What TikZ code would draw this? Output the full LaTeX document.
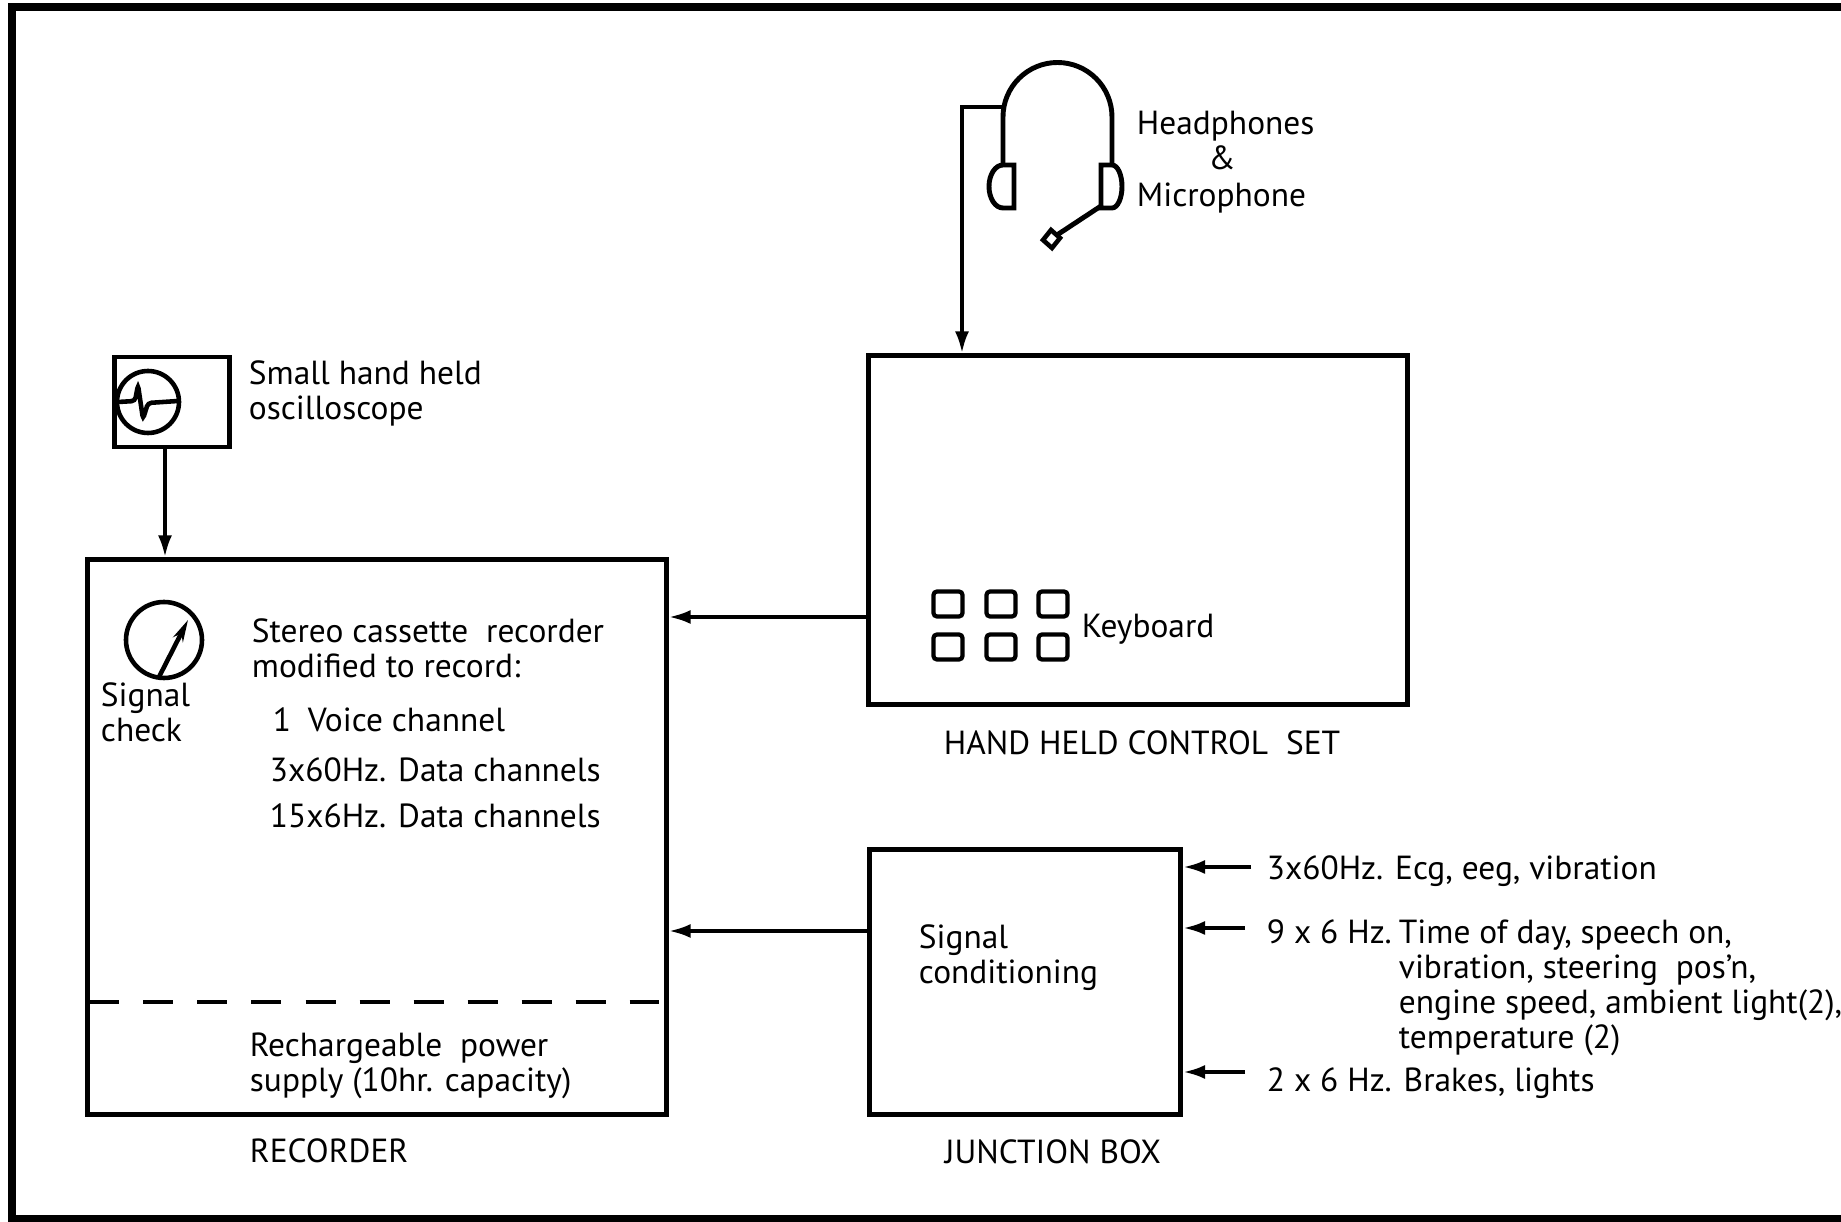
\documentclass[tikz,border=0pt]{standalone}
\usepackage{fontspec}
\setmainfont{PT Sans}
\usetikzlibrary{arrows.meta}

\begin{document}
\begin{tikzpicture}[x=0.01cm,y=-0.01cm,line width=1.1pt,
  font=\fontsize{9.5}{10}\selectfont,
  box/.style={draw,line width=1.4pt,inner sep=0pt},
  key/.style={draw,line width=1.2pt,rounded corners=1pt,inner sep=0pt,minimum width=0.29cm,minimum height=0.25cm},
  lbl/.style={anchor=base west,inner sep=0pt,align=left},
  arr/.style={-{Latex[length=0.22cm,width=0.14cm]}}]
  \useasboundingbox (0,0) rectangle (1841,1222);
  \draw[line width=2pt] (1841,7) -- (12,7) -- (12,1219) -- (1841,1219);

  \node[box,minimum width=1.15cm,minimum height=0.9cm] (osc) at (172,402) {};
  \node[box,minimum width=5.78cm,minimum height=5.54cm] (rec) at (377,837) {};
  \node[box,minimum width=5.38cm,minimum height=3.48cm] (ctrl) at (1138,530) {};
  \node[box,minimum width=3.11cm,minimum height=2.64cm] (jbox) at (1025,982) {};

  % oscilloscope screen
  \draw[line width=1.3pt] (148,402) circle[radius=31];
  \draw[line width=1.3pt,rounded corners=1pt] (118,402) -- (135,401) -- (138,385) -- (143,419) -- (148,403) -- (178,401);
  \node[lbl] (osclbl) at (247,420) {Small hand held\\oscilloscope};

  % headset
  \draw[line width=1.4pt] (1003,165) -- (1003,117) arc[start angle=180,end angle=360,radius=54.5] -- (1112,165);
  \draw[line width=1.4pt] (1014,165) -- (1003,165) arc[start angle=270,end angle=90,x radius=14,y radius=21.5] -- (1014,208) -- cycle;
  \draw[line width=1.4pt] (1101,165) -- (1112,165) arc[start angle=270,end angle=450,x radius=10,y radius=21.5] -- (1101,208) -- cycle;
  \draw[line width=1.4pt] (1101,206) -- (1057,235);
  \draw[line width=1.3pt] (1043,240) -- (1051,230) -- (1060,238) -- (1052,248) -- cycle;
  \coordinate (band) at (1003,107);
  \node[lbl] (hp1) at (1135,135) {Headphones};
  \node[anchor=base,inner sep=0pt] (hp2) at (1222,170) {\&};
  \node[lbl] (hp3) at (1135,207) {Microphone};

  % recorder
  \draw[line width=1.3pt] (164,640) circle[radius=38];
  \draw[line width=1.3pt,-{Stealth[length=0.22cm,width=0.11cm]}] (159,677) -- (188,620);
  \node[lbl] (chk) at (99,742) {Signal\\check};
  \node[lbl] (rectxt) at (250,678) {Stereo cassette \ recorder\\modified to record:};
  \node[lbl] (ch1) at (271,732) {1\enspace Voice channel};
  \node[lbl] (ch2) at (268,782) {3x60Hz. Data channels};
  \node[lbl] (ch3) at (268,828) {15x6Hz. Data channels};
  \draw[dash pattern=on 0.3cm off 0.24cm] ([xshift=0.04cm]rec.west |- 0,1002) -- ([xshift=-0.1cm]rec.east |- 0,1002);
  \node[lbl] (pwr) at (248,1092) {Rechargeable \ power\\supply (10hr. capacity)};
  \node[lbl] (reclbl) at (248,1163) {RECORDER};

  % control set
  \node[key] (k1) at (948,604) {};
  \node[key] (k2) at (1001,604) {};
  \node[key] (k3) at (1053,604) {};
  \node[key] (k4) at (948,647) {};
  \node[key] (k5) at (1001,647) {};
  \node[key] (k6) at (1053,647) {};
  \node[lbl] (kbd) at (1080,638) {Keyboard};
  \node[lbl] (ctrllbl) at (942,755) {HAND HELD CONTROL \ SET};

  % junction box
  \node[lbl] (cond) at (917,984) {Signal\\conditioning};
  \node[lbl] (jboxlbl) at (943,1164) {JUNCTION BOX};
  \node[lbl] (in1) at (1265,880) {3x60Hz. Ecg, eeg, vibration};
  \node[lbl] (in2) at (1265,944) {9 x 6 Hz.};
  \node[lbl] (in2txt) at (1397,1049) {Time of day, speech on,\\vibration, steering \ pos'n,\\engine speed, ambient light(2),\\temperature (2)};
  \node[lbl] (in3) at (1265,1092) {2 x 6 Hz. Brakes, lights};
  \coordinate (s1) at (1251,867);
  \coordinate (s2) at (1245,928);
  \coordinate (s3) at (1245,1072);

  \draw[arr] (band) -- (962,107) -- (ctrl.north -| 962,0);
  \draw[arr] (osc.south -| 165,0) -- (rec.north -| 165,0);
  \draw[arr] (ctrl.west |- 0,617) -- (rec.east |- 0,617);
  \draw[arr] (jbox.west |- 0,931) -- (rec.east |- 0,931);
  \draw[arr] (s1) -- (jbox.east |- s1);
  \draw[arr] (s2) -- (jbox.east |- s2);
  \draw[arr] (s3) -- (jbox.east |- s3);
\end{tikzpicture}
\end{document}
